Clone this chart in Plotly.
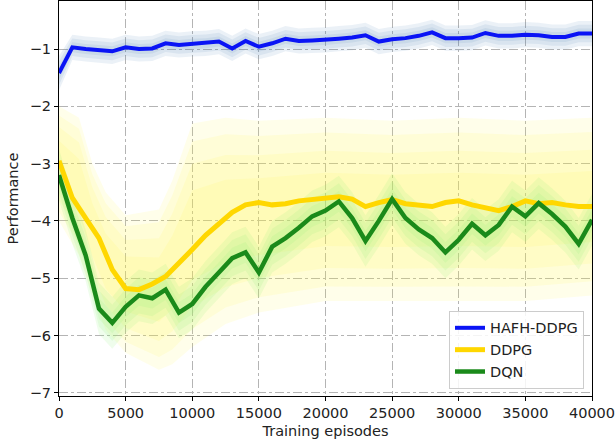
import plotly.graph_objects as go

# ---------------- data ----------------
episodes = [0, 1000, 2000, 3000, 4000, 5000, 6000, 7000, 8000, 9000, 10000,
            11000, 12000, 13000, 14000, 15000, 16000, 17000, 18000, 19000, 20000,
            21000, 22000, 23000, 24000, 25000, 26000, 27000, 28000, 29000, 30000,
            31000, 32000, 33000, 34000, 35000, 36000, 37000, 38000, 39000, 40000]

hafh_ddpg = [-1.42, -0.97, -1.00, -1.02, -1.04, -0.97, -1.00, -0.99, -0.90, -0.93, -0.91,
             -0.90, -0.87, -0.99, -0.86, -0.96, -0.90, -0.82, -0.86, -0.85, -0.84,
             -0.82, -0.80, -0.76, -0.87, -0.83, -0.81, -0.77, -0.71, -0.81, -0.81,
             -0.80, -0.72, -0.77, -0.77, -0.75, -0.76, -0.79, -0.79, -0.73, -0.73]

ddpg = [-2.95, -3.60, -3.95, -4.30, -4.85, -5.18, -5.20, -5.10, -4.97, -4.75, -4.50,
        -4.25, -4.05, -3.85, -3.72, -3.68, -3.72, -3.70, -3.65, -3.62, -3.60,
        -3.58, -3.62, -3.75, -3.68, -3.63, -3.70, -3.72, -3.75, -3.68, -3.65,
        -3.72, -3.78, -3.82, -3.75, -3.65, -3.70, -3.68, -3.72, -3.75, -3.75]

dqn = [-3.20, -3.95, -4.60, -5.53, -5.78, -5.50, -5.30, -5.35, -5.20, -5.60, -5.45,
       -5.15, -4.90, -4.65, -4.55, -4.90, -4.45, -4.30, -4.12, -3.92, -3.82,
       -3.66, -3.95, -4.35, -4.00, -3.62, -3.95, -4.15, -4.30, -4.55, -4.33,
       -4.05, -4.25, -4.07, -3.75, -3.92, -3.69, -3.88, -4.10, -4.40, -3.98]

# spread (shaded bands)
hafh_spread = [0.30, 0.22, 0.22, 0.22, 0.22, 0.22, 0.22, 0.22, 0.22, 0.22, 0.22,
               0.22, 0.22, 0.22, 0.22, 0.22, 0.22, 0.22, 0.22, 0.22, 0.22,
               0.22, 0.22, 0.22, 0.22, 0.22, 0.22, 0.22, 0.22, 0.22, 0.22,
               0.22, 0.22, 0.22, 0.22, 0.22, 0.22, 0.22, 0.22, 0.22, 0.22]
dqn_spread = [0.45] * 41

ddpg_band_x = [0, 1500, 2500, 3500, 5000, 7500, 8500, 10000, 12500, 15000,
               20000, 25000, 30000, 35000, 40000]
ddpg_band_upper = [-2.0, -2.2, -3.0, -3.5, -3.9, -3.8, -3.3, -2.3, -2.2, -2.25,
                   -2.2, -2.25, -2.2, -2.25, -2.2]
ddpg_band_lower = [-4.0, -4.6, -5.3, -5.9, -6.3, -6.6, -6.5, -6.2, -5.8, -5.6,
                   -5.4, -5.4, -5.4, -5.4, -5.3]

series_names = ["HAFH-DDPG", "DDPG", "DQN"]
x_ticks = [0, 5000, 10000, 15000, 20000, 25000, 30000, 35000, 40000]
y_ticks = [-7, -6, -5, -4, -3, -2, -1]

FONT = "DejaVu Sans"
FS = 14.5

# ---------------- figure ----------------
fig = go.Figure()


def add_band(x, lo, hi, rgb, layers, alpha):
    # stacked translucent fills shrinking toward the middle -> fuzzy edge
    for t in layers:
        up = [h - (h - l) * t for h, l in zip(hi, lo)]
        dn = [l + (h - l) * t for h, l in zip(hi, lo)]
        fig.add_trace(go.Scatter(
            x=list(x) + list(x)[::-1], y=up + dn[::-1],
            fill="toself", mode="none",
            fillcolor=f"rgba({rgb},{alpha})",
            hoverinfo="skip", showlegend=False))


# blue band
add_band(episodes, [m - s for m, s in zip(hafh_ddpg, hafh_spread)],
         [m + s for m, s in zip(hafh_ddpg, hafh_spread)],
         "70,130,180", [0.0, 0.15, 0.3], 0.11)
# yellow band
add_band(ddpg_band_x, ddpg_band_lower, ddpg_band_upper,
         "255,245,60", [0.0, 0.08, 0.18, 0.3], 0.11)
# green band
add_band(episodes, [m - s for m, s in zip(dqn, dqn_spread)],
         [m + s for m, s in zip(dqn, dqn_spread)],
         "144,238,120", [0.0, 0.15, 0.3], 0.14)

fig.add_trace(go.Scatter(x=episodes, y=hafh_ddpg, mode="lines", name=series_names[0],
                         line=dict(color="#0a14f5", width=4)))
fig.add_trace(go.Scatter(x=episodes, y=ddpg, mode="lines", name=series_names[1],
                         line=dict(color="#ffd700", width=5)))
fig.add_trace(go.Scatter(x=episodes, y=dqn, mode="lines", name=series_names[2],
                         line=dict(color="#1a8a1a", width=4.5)))

axis_common = dict(
    showline=True, linecolor="black", linewidth=1, mirror=True,
    ticks="outside", ticklen=4, tickcolor="black", tickwidth=1,
    showgrid=True, gridcolor="#b4b4b4", gridwidth=1, griddash="dashdot",
    zeroline=False, automargin=False,
    tickfont=dict(family=FONT, size=FS, color="#222"),
)

fig.update_xaxes(range=[0, 40000], tickvals=x_ticks,
                 ticktext=[str(v) for v in x_ticks],
                 title=dict(text="Training episodes", standoff=5,
                            font=dict(family=FONT, size=FS, color="#222")),
                 **axis_common)
fig.update_yaxes(range=[-7.056, -0.162], tickvals=y_ticks,
                 ticktext=["\u2212" + str(-v) for v in y_ticks],
                 title=dict(text="Performance", standoff=7,
                            font=dict(family=FONT, size=FS, color="#222")),
                 **axis_common)

fig.update_layout(
    width=616, height=444,
    margin=dict(l=59, r=24, t=1, b=48),
    plot_bgcolor="white", paper_bgcolor="white",
    font=dict(family=FONT, size=FS, color="#222"),
    legend=dict(x=0.985, y=0.018, xanchor="right", yanchor="bottom",
                bgcolor="rgba(255,255,255,0.85)", bordercolor="#cccccc", borderwidth=1,
                font=dict(family=FONT, size=FS, color="#222"),
                itemwidth=30, tracegroupgap=2),
    showlegend=True,
)

fig.write_html("out.html", config={"displayModeBar": False},
               post_script="document.body.style.margin='0';document.body.style.padding='0';")
